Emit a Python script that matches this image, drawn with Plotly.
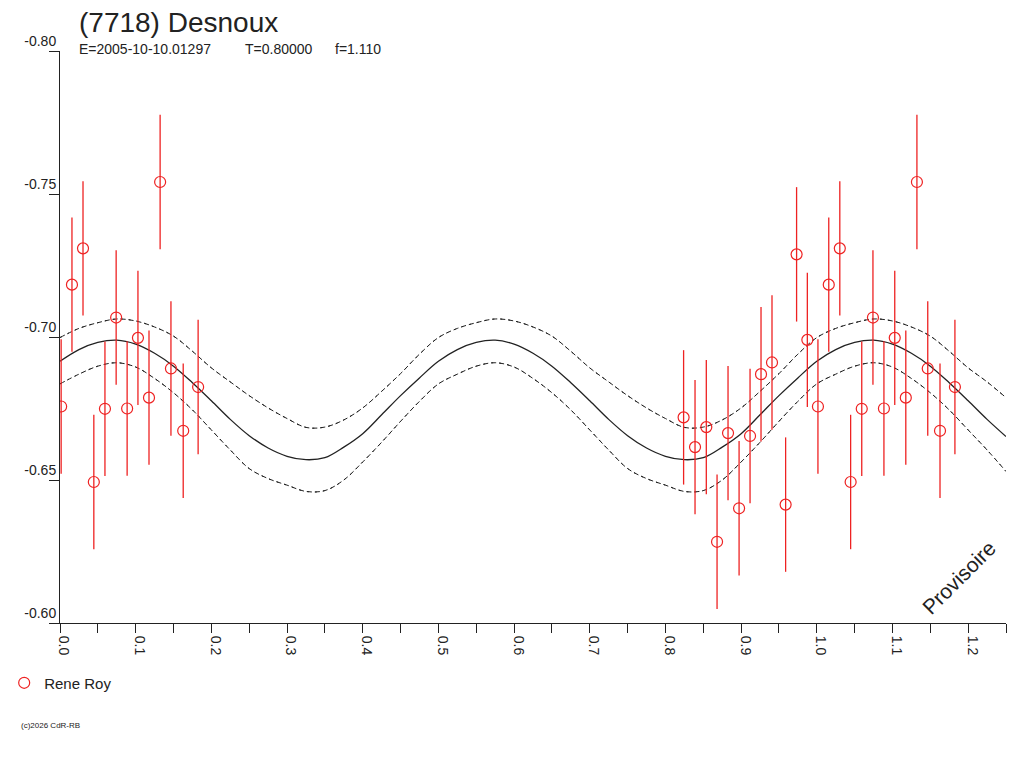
import plotly.graph_objects as go

# Rene Roy measurements (phase folded on P, reduced magnitude)
phase = [0.0015, 0.0158, 0.0304, 0.0447, 0.0594, 0.0742, 0.0887, 0.1030, 0.1176,
         0.1323, 0.1466, 0.1628, 0.1825, 0.8240, 0.8391, 0.8540, 0.8682, 0.8827,
         0.8973, 0.9118, 0.9263, 0.9408, 0.9588, 0.9733, 0.9875]
mag = [-0.6757, -0.7183, -0.7310, -0.6493, -0.6749, -0.7068, -0.6750, -0.6997, -0.6788,
       -0.7542, -0.6890, -0.6672, -0.6825, -0.6719, -0.6615, -0.6685, -0.6284, -0.6664,
       -0.6401, -0.6654, -0.6870, -0.6911, -0.6414, -0.7289, -0.6990]
mag_err = [0.0235, 0.0235, 0.0235, 0.0235, 0.0235, 0.0235, 0.0235, 0.0235, 0.0235,
           0.0235, 0.0235, 0.0235, 0.0235, 0.0235, 0.0235, 0.0235, 0.0235, 0.0235,
           0.0235, 0.0235, 0.0235, 0.0235, 0.0235, 0.0235, 0.0235]

# fitted curve and its two envelopes, sampled every 0.025 in phase
fit_phase = [0.000, 0.025, 0.050, 0.075, 0.100, 0.125, 0.150, 0.175, 0.200, 0.225,
             0.250, 0.275, 0.300, 0.325, 0.350, 0.375, 0.400, 0.425, 0.450, 0.475,
             0.500, 0.525, 0.550, 0.575, 0.600, 0.625, 0.650, 0.675, 0.700, 0.725,
             0.750, 0.775, 0.800, 0.825, 0.850, 0.875, 0.900, 0.925, 0.950, 0.975,
             1.000, 1.025, 1.050, 1.075, 1.100, 1.125, 1.150, 1.175, 1.200, 1.225,
             1.250]
fit_mag = [-0.6915, -0.6956, -0.6981, -0.6989, -0.6975, -0.6943, -0.6898, -0.6840, -0.6777, -0.6712,
           -0.6655, -0.6612, -0.6583, -0.6571, -0.6578, -0.6615, -0.6662, -0.6728, -0.6795, -0.6857,
           -0.6915, -0.6956, -0.6981, -0.6989, -0.6975, -0.6943, -0.6898, -0.6840, -0.6777, -0.6712,
           -0.6655, -0.6612, -0.6583, -0.6571, -0.6578, -0.6615, -0.6662, -0.6728, -0.6795, -0.6857,
           -0.6915, -0.6956, -0.6981, -0.6989, -0.6975, -0.6943, -0.6898, -0.6840, -0.6777, -0.6712,
           -0.6652]
fit_hi = [-0.6998, -0.7030, -0.7050, -0.7063, -0.7056, -0.7035, -0.7003, -0.6950, -0.6892, -0.6843,
          -0.6795, -0.6752, -0.6715, -0.6684, -0.6685, -0.6710, -0.6752, -0.6810, -0.6872, -0.6940,
          -0.6998, -0.7030, -0.7050, -0.7063, -0.7056, -0.7035, -0.7003, -0.6950, -0.6892, -0.6843,
          -0.6795, -0.6752, -0.6715, -0.6684, -0.6685, -0.6710, -0.6752, -0.6810, -0.6872, -0.6940,
          -0.6998, -0.7030, -0.7050, -0.7063, -0.7056, -0.7035, -0.7003, -0.6950, -0.6892, -0.6843,
          -0.6788]
fit_lo = [-0.6836, -0.6870, -0.6898, -0.6910, -0.6895, -0.6855, -0.6805, -0.6745, -0.6675, -0.6605,
          -0.6540, -0.6505, -0.6482, -0.6460, -0.6463, -0.6500, -0.6563, -0.6632, -0.6705, -0.6775,
          -0.6836, -0.6870, -0.6898, -0.6910, -0.6895, -0.6855, -0.6805, -0.6745, -0.6675, -0.6605,
          -0.6540, -0.6505, -0.6482, -0.6460, -0.6463, -0.6500, -0.6563, -0.6632, -0.6705, -0.6775,
          -0.6836, -0.6870, -0.6898, -0.6910, -0.6895, -0.6855, -0.6805, -0.6745, -0.6675, -0.6605,
          -0.6530]

x_ticks = [0.0, 0.1, 0.2, 0.3, 0.4, 0.5, 0.6, 0.7, 0.8, 0.9, 1.0, 1.1, 1.2]
y_ticks = [-0.80, -0.75, -0.70, -0.65, -0.60]

PHASE_MAX = 1.25
INK = "#222222"
RED = "#ee2222"
FONT = "Liberation Sans, Arial, sans-serif"

# points are repeated one cycle later while they still fit on the axis
px_, py_, pe_ = list(phase), list(mag), list(mag_err)
for p, m, e in zip(phase, mag, mag_err):
    if p + 1 <= PHASE_MAX:
        px_.append(p + 1)
        py_.append(m)
        pe_.append(e)

fig = go.Figure()

for band in (fit_hi, fit_lo):
    fig.add_trace(go.Scatter(x=fit_phase, y=band, mode="lines", showlegend=False, hoverinfo="skip",
                             line=dict(color=INK, width=1, dash="5px,3px", shape="spline")))
    fig.add_trace(go.Scatter(x=fit_phase, y=band, mode="lines", showlegend=False, hoverinfo="skip",
                             line=dict(color=INK, width=1, dash="2px,6px", shape="spline")))

fig.add_trace(go.Scatter(x=fit_phase, y=fit_mag, mode="lines", showlegend=False,
                         line=dict(color=INK, width=1.3, shape="spline")))

fig.add_trace(go.Scatter(
    x=px_, y=py_, mode="markers", name="Rene Roy",
    marker=dict(symbol="circle-open", size=11, color=RED, line=dict(width=1.2, color=RED)),
    error_y=dict(type="data", array=pe_, visible=True, color=RED, thickness=1.3, width=0),
))

# the page body adds 8px, so the margins are shifted up/left by that amount
fig.update_layout(
    width=1024, height=768,
    margin=dict(l=52, r=26, t=43, b=153, autoexpand=False),
    paper_bgcolor="white", plot_bgcolor="white",
    font=dict(family=FONT, color=INK, size=14),
    showlegend=True,
    legend=dict(x=-0.059, y=-0.105, xanchor="left", yanchor="middle",
                font=dict(size=15, color=INK), bgcolor="rgba(0,0,0,0)",
                itemwidth=30, tracegroupgap=0),
)

fig.update_xaxes(
    range=[0, PHASE_MAX], showgrid=False, zeroline=False, automargin=False,
    showline=True, linecolor=INK, linewidth=1,
    ticks="outside", ticklen=9, tickcolor=INK, tickwidth=1,
    tickvals=x_ticks, ticktext=[f"{v:.1f}" for v in x_ticks],
    tickangle=90, tickfont=dict(size=14, color=INK), ticklabelshift=4,
    minor=dict(dtick=0.05, tick0=0, ticks="outside", ticklen=9, tickcolor=INK, tickwidth=1),
)
fig.update_yaxes(
    range=[y_ticks[-1], y_ticks[0]], showgrid=False, zeroline=False, automargin=False,
    showline=True, linecolor=INK, linewidth=1,
    ticks="outside", ticklen=10, tickcolor=INK, tickwidth=1,
    tickvals=y_ticks, ticktext=[f"{v:.2f}" for v in y_ticks],
    ticklabelposition="outside top", tickfont=dict(size=14, color=INK),
)

fig.add_annotation(text="(7718) Desnoux", xref="paper", yref="paper", x=0.018, y=1.049,
                   xanchor="left", yanchor="middle", showarrow=False,
                   font=dict(size=28, color=INK))
for label, xpos in (("E=2005-10-10.01297", 0.018), ("T=0.80000", 0.193), ("f=1.110", 0.289)):
    fig.add_annotation(text=label, xref="paper", yref="paper", x=xpos, y=1.003,
                       xanchor="left", yanchor="middle", showarrow=False,
                       font=dict(size=14, color=INK))
fig.add_annotation(text="Provisoire", xref="paper", yref="paper", x=0.95, y=0.08,
                   xanchor="center", yanchor="middle", showarrow=False, textangle=-45,
                   font=dict(size=21, color=INK))
fig.add_annotation(text="(c)2026 CdR-RB", xref="paper", yref="paper", x=-0.043, y=-0.179,
                   xanchor="left", yanchor="middle", showarrow=False,
                   font=dict(size=8, color=INK))

fig.write_html("out.html")
